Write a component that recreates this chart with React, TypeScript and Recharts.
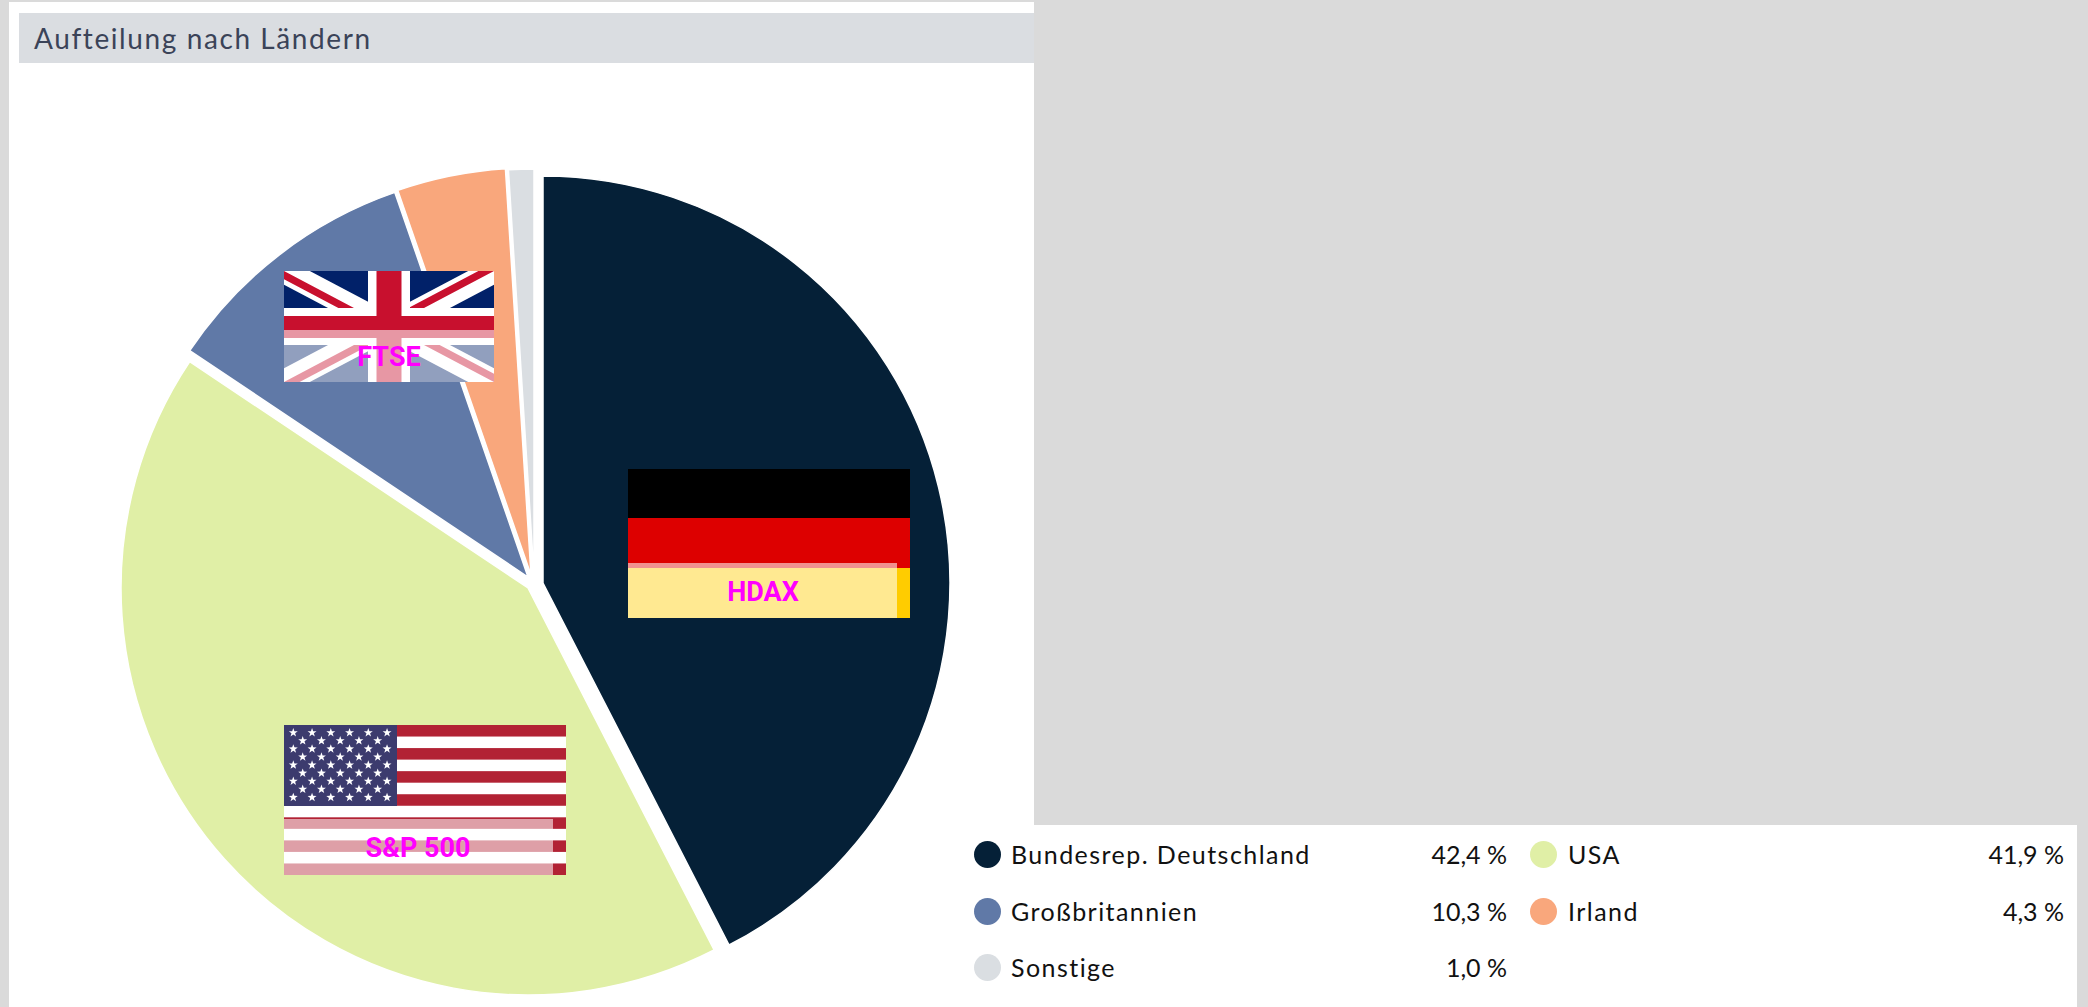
import React from "react";
import { PieChart, Pie, Cell, Sector } from "recharts";

const countries = ["Bundesrep. Deutschland", "USA", "Großbritannien", "Irland", "Sonstige"];
const shares = [42.4, 41.9, 10.3, 4.3, 1.0];
const shareLabels = ["42,4 %", "41,9 %", "10,3 %", "4,3 %", "1,0 %"];
const colors = ["#052037", "#E0EFA6", "#6079A7", "#F9A77C", "#DADEE2"];
const sliceOffsets = [[9, 2], [-6, 7], [-6, -4], [-3, -6], [0, -5]];
const pieData = countries.map((name, i) => ({ name, value: shares[i] }));

const legendSlots = [
  { dot: 987, y: 854, label: 1011, right: 1507 },
  { dot: 1543, y: 854, label: 1568, right: 2064 },
  { dot: 987, y: 911, label: 1011, right: 1507 },
  { dot: 1543, y: 911, label: 1568, right: 2064 },
  { dot: 987, y: 967, label: 1011, right: 1507 },
];

const OVERLAY = "rgba(255,255,255,0.57)";
const LABEL_STYLE: React.CSSProperties = {
  fontFamily: "Roboto, sans-serif",
  fontWeight: 700,
  fontSize: 27,
  fill: "#FF00FF",
  textAnchor: "middle",
};

const renderSlice = (props: any) => {
  const [dx, dy] = sliceOffsets[props.index] ?? [0, 0];
  return <Sector {...props} cx={props.cx + dx} cy={props.cy + dy} />;
};

function UKFlag() {
  const x = 284, y = 271, w = 210, h = 111;
  const cx = 389, cy = 327;
  return (
    <g>
      <svg x={x} y={y} width={w} height={h} viewBox="0 0 60 30" preserveAspectRatio="none">
        <defs>
          <clipPath id="uk-t">
            <path d="M30,15 h30 v15 z v15 h-30 z h-30 v-15 z v-15 h30 z" />
          </clipPath>
        </defs>
        <rect width="60" height="30" fill="#012169" />
        <path d="M0,0 L60,30 M60,0 L0,30" stroke="#fff" strokeWidth="6.6" />
        <path d="M0,0 L60,30 M60,0 L0,30" clipPath="url(#uk-t)" stroke="#C8102E" strokeWidth="4" />
      </svg>
      <rect x={cx - 21} y={y} width={42} height={h} fill="#fff" />
      <rect x={x} y={cy - 19} width={w} height={37} fill="#fff" />
      <rect x={cx - 12.5} y={y} width={25} height={h} fill="#C8102E" />
      <rect x={x} y={cy - 11} width={w} height={22} fill="#C8102E" />
      <rect x={x} y={330} width={w} height={52} fill={OVERLAY} />
      <text x={389} y={366} style={LABEL_STYLE}>FTSE</text>
    </g>
  );
}

function DEFlag() {
  const x = 628, w = 282;
  return (
    <g>
      <rect x={x} y={469} width={w} height={49} fill="#000" />
      <rect x={x} y={518} width={w} height={50} fill="#DD0000" />
      <rect x={x} y={568} width={w} height={50} fill="#FFCC00" />
      <rect x={x} y={563} width={269} height={55} fill={OVERLAY} />
      <text x={763} y={601} style={LABEL_STYLE}>HDAX</text>
    </g>
  );
}

function USFlag() {
  const x = 284, y = 725, w = 282, h = 150;
  const sh = h / 13;
  const stripes = Array.from({ length: 13 }, (_, i) => i);
  const stars: [number, number][] = [];
  for (let r = 0; r < 9; r++) {
    const n = r % 2 === 0 ? 6 : 5;
    for (let c = 0; c < n; c++) {
      stars.push([293.3 + c * 18.75 + (r % 2 ? 9.4 : 0), 732.7 + r * 8.08]);
    }
  }
  const star = (sx: number, sy: number) => {
    const pts: string[] = [];
    for (let i = 0; i < 10; i++) {
      const rad = i % 2 === 0 ? 4.7 : 1.9;
      const a = -Math.PI / 2 + (i * Math.PI) / 5;
      pts.push(`${sx + rad * Math.cos(a)},${sy + rad * Math.sin(a)}`);
    }
    return pts.join(" ");
  };
  return (
    <g>
      <rect x={x} y={y} width={w} height={h} fill="#fff" />
      {stripes.map((i) =>
        i % 2 === 0 ? <rect key={i} x={x} y={y + i * sh} width={w} height={sh} fill="#B22234" /> : null
      )}
      <rect x={x} y={y} width={113} height={81} fill="#3C3B6E" />
      {stars.map(([sx, sy], i) => (
        <polygon key={i} points={star(sx, sy)} fill="#fff" />
      ))}
      <rect x={x} y={819} width={269} height={56} fill={OVERLAY} />
      <text x={418} y={857} style={LABEL_STYLE}>S&amp;P 500</text>
    </g>
  );
}

export default function App() {
  return (
    <div style={{ position: "fixed", left: 0, top: 0, width: 2088, height: 1007, background: "#DADADA", overflow: "hidden" }}>
      <div style={{ position: "absolute", left: 9, top: 2, width: 1025, height: 1005, background: "#fff" }} />
      <div style={{ position: "absolute", left: 1034, top: 825, width: 1043, height: 182, background: "#fff" }} />
      <div
        style={{
          position: "absolute", left: 19, top: 13, width: 1015, height: 50, background: "#DADDE1",
          fontFamily: "Lato", fontSize: 28, letterSpacing: 1.6, lineHeight: "50px", color: "#3A4358", paddingLeft: 15, boxSizing: "border-box",
        }}
      >
        Aufteilung nach Ländern
      </div>
      <div style={{ position: "absolute", left: 0, top: 0 }}>
        <PieChart width={2088} height={1007} margin={{ top: 0, right: 0, bottom: 0, left: 0 }}>
          <Pie
            data={pieData}
            dataKey="value"
            nameKey="name"
            cx={534}
            cy={581}
            innerRadius={0}
            outerRadius={407}
            startAngle={90}
            endAngle={-270}
            stroke="#fff"
            strokeWidth={1.5}
            shape={renderSlice}
            isAnimationActive={false}
            legendType="circle"
          >
            {pieData.map((d, i) => (
              <Cell key={d.name} fill={colors[i]} />
            ))}
          </Pie>
        </PieChart>
      </div>
      <svg width={2088} height={1007} style={{ position: "absolute", left: 0, top: 0, pointerEvents: "none" }}>
        <UKFlag />
        <DEFlag />
        <USFlag />
      </svg>
      {countries.map((name, i) => {
        const s = legendSlots[i];
        const text: React.CSSProperties = {
          position: "absolute", top: s.y - 20, height: 40, lineHeight: "40px",
          fontFamily: "Lato", fontSize: 25, color: "#111", whiteSpace: "nowrap",
        };
        return (
          <React.Fragment key={name}>
            <div style={{ position: "absolute", left: s.dot - 13.5, top: s.y - 13.5, width: 27, height: 27, borderRadius: "50%", background: colors[i] }} />
            <div style={{ ...text, left: s.label, letterSpacing: 1.45 }}>{name}</div>
            <div style={{ ...text, right: 2088 - s.right }}>{shareLabels[i]}</div>
          </React.Fragment>
        );
      })}
    </div>
  );
}
